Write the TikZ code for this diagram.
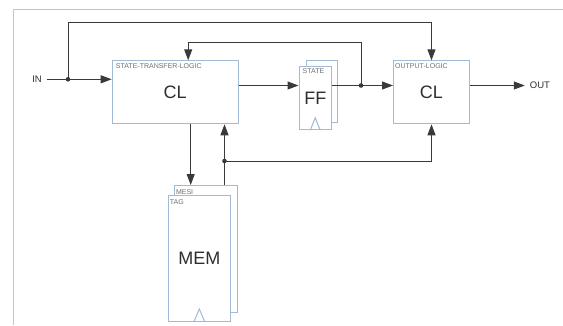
\documentclass[tikz,border=0pt]{standalone}
\usepackage{fontspec}
\setmainfont{Liberation Sans}
\usetikzlibrary{arrows.meta}
\definecolor{wirec}{HTML}{3A3A3A}
\definecolor{boxc}{HTML}{A3B9D8}
\definecolor{txtc}{HTML}{2E2E2E}
\definecolor{tagc}{HTML}{707070}
\definecolor{framec}{HTML}{C4C4C4}
\begin{document}
\begin{tikzpicture}[x=1pt,y=-1pt,>={Triangle[length=11pt,width=8pt]},
  wire/.style={draw=wirec,line width=1pt},
  blk/.style={draw=boxc,fill=white,line width=1pt,anchor=north west,inner sep=0pt,text=txtc,font=\fontsize{18}{20}\selectfont},
  tag/.style={anchor=north west,inner sep=0pt,text=tagc,font=\fontsize{7}{8}\selectfont},
  io/.style={inner sep=5pt,text=txtc,font=\fontsize{9.5}{11}\selectfont}]
\useasboundingbox (0,0) rectangle (563,325);
\draw[framec,line width=1pt] (563,9.3) -- (13.3,9.3) -- (13.3,325);
% blocks
\node[blk,minimum width=126,minimum height=63] (stl) at (111.7,60.3) {CL};
\node[blk,minimum width=76,minimum height=63] (ol) at (393,60.3) {CL};
\node[blk,minimum width=31,minimum height=62.5] (ffback) at (305.7,59.5) {};
\node[blk,minimum width=32.5,minimum height=63] (fffront) at (298.5,66.3) {FF};
\node[blk,minimum width=63,minimum height=126.7] (memback) at (174.3,185) {};
\node[blk,minimum width=62.3,minimum height=126.5] (memfront) at (167.7,194.5) {MEM};
\draw[boxc,line width=1pt] (fffront.south) ++(-5,0) -- ++(5,-12.5) -- ++(5,12.5);
\draw[boxc,line width=1pt] (memfront.south) ++(-5.5,0) -- ++(5.5,-13) -- ++(5.5,13);
\node[tag] (stltag) at ([shift={(4,3)}]stl.north west) {STATE-TRANSFER-LOGIC};
\node[tag] (oltag) at ([shift={(2,3)}]ol.north west) {OUTPUT-LOGIC};
\node[tag] (fftag) at ([shift={(4,2)}]fffront.north west) {STATE};
\node[tag] (mesitag) at ([shift={(1.5,4)}]memback.north west) {MESI};
\node[tag] (memtag) at ([shift={(2,4.5)}]memfront.north west) {TAG};
\node[io] (in) at (37,79.3) {IN};
\node[io] (out) at (540,85) {OUT};
% junctions
\coordinate (j1) at (68,79.3);
\coordinate (j2) at (361,85.5);
\coordinate (j3) at (224.5,161);
% wires
\draw[wire,->] (in.east) -- (in.east -| stl.west);
\draw[wire,->] (j1) -- (68,22.7) -| (ol.north);
\draw[wire,->] (stl.east |- j2) -- (fffront.west |- j2);
\draw[wire] (fffront.east |- j2) -- (j2);
\draw[wire,->] (j2) -- (ol.west |- j2);
\draw[wire,->] (j2) -- (361,42) -| ([xshift=13]stl.north);
\draw[wire,->] (ol.east |- j2) -- (out.west |- j2);
\draw[wire,->] ([xshift=15.5]stl.south) -- ([xshift=15.5]stl.south |- memback.north);
\draw[wire,->] (memback.north -| j3) -- (stl.south -| j3);
\draw[wire,->] (j3) -| (ol.south);
\foreach \j in {j1,j2,j3} \fill[wirec] (\j) circle (2.3);
\end{tikzpicture}
\end{document}
